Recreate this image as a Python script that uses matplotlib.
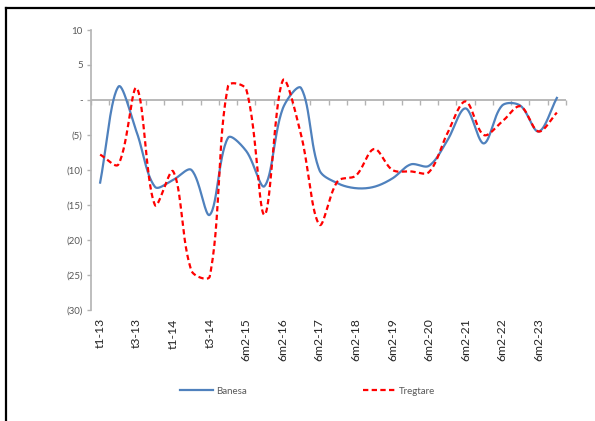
import matplotlib
matplotlib.use("Agg")
import matplotlib.pyplot as plt
import numpy as np
from matplotlib.lines import Line2D
from matplotlib.ticker import FuncFormatter, FixedLocator

plt.rcParams["font.family"] = ["Lato", "DejaVu Sans"]

periods = [
    "t1-13", "t2-13", "t3-13", "t4-13", "t1-14", "t2-14", "t3-14", "t4-14",
    "6m2-15", "6m1-16", "6m2-16", "6m1-17", "6m2-17", "6m1-18", "6m2-18",
    "6m1-19", "6m2-19", "6m1-20", "6m2-20", "6m1-21", "6m2-21", "6m1-22",
    "6m2-22", "6m1-23", "6m2-23", "6m1-24",
]
banesa = [
    -11.8, 1.9, -4.6, -12.4, -11.4, -10.0, -16.4, -5.4, -7.3, -12.3, -1.2,
    1.7, -10.0, -11.9, -12.6, -12.4, -11.2, -9.2, -9.4, -5.8, -1.2, -6.2,
    -0.8, -0.8, -4.5, 0.3,
]
tregtare = [
    -7.8, -9.2, 1.7, -15.0, -10.2, -24.4, -25.2, 2.0, 1.5, -16.4, 2.8,
    -5.0, -17.8, -11.6, -10.8, -7.0, -10.0, -10.2, -10.3, -4.8, -0.2, -5.0,
    -3.1, -0.9, -4.5, -1.8,
]

# axes box in pixels (figure is 595 x 421)
AX_LEFT, AX_BOTTOM, AX_W, AX_H = 91, 111, 475, 280
Y_MIN, Y_MAX = -30, 10


def smooth(values, steps=30):
    # bezier through each point; control arms shrink next to long segments,
    # measured in screen space so steep jumps don't overshoot
    y = np.asarray(values, dtype=float)
    x = np.arange(len(y), dtype=float)
    sx = AX_W / len(y)
    sy = AX_H / (Y_MAX - Y_MIN)
    pts = np.column_stack([x * sx, y * sy])
    ext = np.vstack([pts[0], pts, pts[-1]])
    t = np.linspace(0, 1, steps, endpoint=False)[:, None]
    out = []
    for i in range(len(pts) - 1):
        p0, p1, p2, p3 = ext[i], ext[i + 1], ext[i + 2], ext[i + 3]
        d01 = np.hypot(*(p1 - p0))
        d12 = np.hypot(*(p2 - p1))
        d23 = np.hypot(*(p3 - p2))
        k1 = d12 / (d01 + d12) / 3 if d01 + d12 > 0 else 0
        k2 = d12 / (d12 + d23) / 3 if d12 + d23 > 0 else 0
        c1 = p1 + (p2 - p0) * k1
        c2 = p2 - (p3 - p1) * k2
        seg = (1 - t) ** 3 * p1 + 3 * (1 - t) ** 2 * t * c1 + 3 * (1 - t) * t ** 2 * c2 + t ** 3 * p2
        out.append(seg)
    out.append(pts[-1][None, :])
    out = np.vstack(out)
    return out[:, 0] / sx, out[:, 1] / sy


def fmt_value(v, _pos):
    if abs(v) < 1e-9:
        return "-"
    if v < 0:
        return f"({abs(v):.0f})"
    return f"{v:.0f}"


fig = plt.figure(figsize=(5.95, 4.21), dpi=100)
ax = fig.add_axes([AX_LEFT / 595, AX_BOTTOM / 421, AX_W / 595, AX_H / 421])

grey = "#B3B3B3"
ax.axhline(0, color=grey, lw=1.3, zorder=1)

bx, by = smooth(banesa)
tx, ty = smooth(tregtare)
ax.plot(bx, by, color="#4F81BD", lw=1.6, label="Banesa", zorder=3)
ax.plot(tx, ty, color="#FF0000", lw=1.6, ls=(0, (2.4, 1.5)), label="Tregtare", zorder=4)

ax.set_xlim(-0.5, len(periods) - 0.5)
ax.set_ylim(Y_MIN, Y_MAX)
ax.set_yticks(np.arange(Y_MIN, Y_MAX + 1, 5))
ax.yaxis.set_major_formatter(FuncFormatter(fmt_value))
ax.tick_params(axis="y", colors=grey, labelcolor="#595959", labelsize=7, length=3, width=1, pad=3)

ax.set_xticks(np.arange(0, len(periods), 2))
ax.set_xticklabels(periods[::2], rotation=90, fontsize=8.8, color="#262626")
ax.tick_params(axis="x", length=0, pad=6)

for side in ("top", "right", "bottom"):
    ax.spines[side].set_visible(False)
ax.spines["left"].set_color(grey)
ax.spines["left"].set_linewidth(1.2)

# category tick marks hang below the zero line
zero_axis = ax.secondary_xaxis(-Y_MIN / (Y_MAX - Y_MIN))
zero_axis.xaxis.set_major_locator(FixedLocator(np.arange(-0.5, len(periods), 1)))
zero_axis.tick_params(axis="x", direction="in", length=3.5, width=1, colors=grey, labelbottom=False, labeltop=False)
zero_axis.set_xticklabels([])
zero_axis.spines["top"].set_visible(False)
zero_axis.spines["bottom"].set_visible(False)

fig.legend(loc="center", bbox_to_anchor=(0.517, 1 - 391 / 421), ncol=2, frameon=False,
           fontsize=7, labelcolor="#595959", handlelength=3.4, handletextpad=0.3,
           columnspacing=12.0)

fig.add_artist(Line2D([6 / 595, 6 / 595], [0, 1 - 8 / 421], color="black", lw=1.6, transform=fig.transFigure))
fig.add_artist(Line2D([6 / 595, 1], [1 - 8 / 421, 1 - 8 / 421], color="black", lw=1.6, transform=fig.transFigure))

fig.savefig("out.png", dpi=100)
